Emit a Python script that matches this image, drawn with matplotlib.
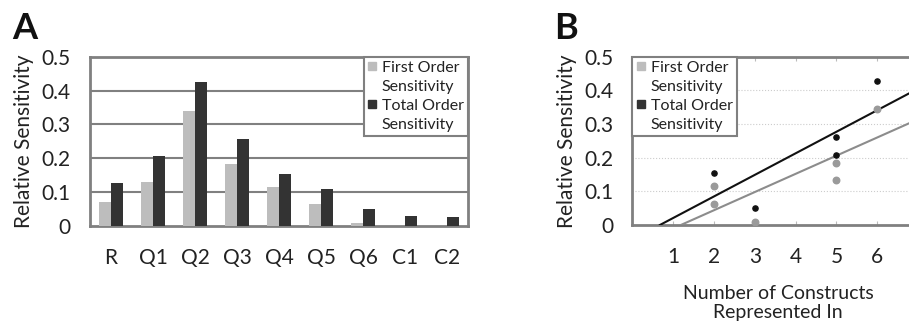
import numpy as np
import matplotlib.pyplot as plt
from matplotlib.lines import Line2D

plt.rcParams['font.family'] = ['Lato', 'DejaVu Sans']

# Панель A: чувствительность по параметрам
categories = ["R", "Q1", "Q2", "Q3", "Q4", "Q5", "Q6", "C1", "C2"]
first_order = [0.071, 0.130, 0.339, 0.182, 0.115, 0.064, 0.009, 0.0, 0.0]
total_order = [0.128, 0.206, 0.424, 0.258, 0.153, 0.110, 0.049, 0.031, 0.026]

# Панель B: точки и линии тренда
b_first_x = [2, 2, 3, 5, 5, 6]
b_first_y = [0.116, 0.062, 0.010, 0.184, 0.133, 0.344]
b_total_x = [2, 3, 5, 5, 6]
b_total_y = [0.154, 0.050, 0.261, 0.209, 0.429]
fit_first = (0.054, -0.064)   # наклон, сдвиг
fit_total = (0.064, -0.043)

light = '#bdbdbd'
dark = '#333333'
frame = '#808080'

fig = plt.figure(figsize=(9.09, 3.25), dpi=100)


def add_legend(a, loc, anchor):
    # маркер только у первой строки подписи
    blank = Line2D([], [], ls='none')
    handles = [Line2D([], [], marker='s', ls='none', color=light, markersize=6), blank,
               Line2D([], [], marker='s', ls='none', color=dark, markersize=6), blank]
    labels = ["First Order", "Sensitivity", "Total Order", "Sensitivity"]
    leg = a.legend(handles, labels, loc=loc, bbox_to_anchor=anchor,
                   borderaxespad=0, fontsize=11.5, frameon=True, fancybox=False,
                   handlelength=0.6, handletextpad=0.3, labelspacing=0.3,
                   borderpad=0.25, framealpha=1)
    leg.get_frame().set_edgecolor(frame)
    leg.get_frame().set_linewidth(1.5)
    for t in leg.get_texts():
        t.set_color('#222222')


# ---- A ----
ax = fig.add_axes([0.099, 0.3046, 0.4158, 0.521])
x = np.arange(len(categories))
w = 0.28
ax.bar(x - w / 2, first_order, w, color=light, zorder=3)
ax.bar(x + w / 2, total_order, w, color=dark, zorder=3)
ax.set_xlim(-0.5, len(categories) - 0.5)
ax.set_ylim(0, 0.5)
ax.set_yticks([0, 0.1, 0.2, 0.3, 0.4, 0.5])
ax.set_yticklabels(["0", "0.1", "0.2", "0.3", "0.4", "0.5"])
ax.set_xticks(x)
ax.set_xticklabels(categories)
ax.tick_params(length=0, labelsize=15, colors='#222222')
ax.tick_params(axis='x', pad=16)
ax.tick_params(axis='y', pad=14)
for yv in [0.1, 0.2, 0.3, 0.4]:
    ax.axhline(yv, color=frame, lw=1.5, zorder=1)
for s in ax.spines.values():
    s.set_color(frame)
    s.set_linewidth(2)
ax.set_ylabel("Relative Sensitivity", fontsize=15, color='#222222', labelpad=5)
add_legend(ax, 'upper right', (1, 1))
fig.text(0.013, 0.88, "A", fontsize=26, fontweight='bold', color='#111111')

# ---- B ----
bx = fig.add_axes([0.6958, 0.3077, 0.3142, 0.518])
bx.set_xlim(0, 7)
bx.set_ylim(0, 0.5)
for slope, icpt, col in [(fit_first[0], fit_first[1], '#8c8c8c'), (fit_total[0], fit_total[1], '#111111')]:
    xs = np.array([-icpt / slope, 7])
    bx.plot(xs, slope * xs + icpt, color=col, lw=1.5, zorder=3)
bx.scatter(b_total_x, b_total_y, s=14, color='#111111', zorder=4)
bx.scatter(b_first_x, b_first_y, s=22, color='#9a9a9a', zorder=5)
bx.set_xticks([1, 2, 3, 4, 5, 6])
bx.set_yticks([0, 0.1, 0.2, 0.3, 0.4, 0.5])
bx.set_yticklabels(["0", "0.1", "0.2", "0.3", "0.4", "0.5"])
bx.tick_params(axis='x', direction='in', length=3, color='#bbbbbb', top=True, pad=16)
bx.tick_params(axis='y', length=0, pad=14)
bx.tick_params(labelsize=15, labelcolor='#222222')
for yv in [0.1, 0.2, 0.3, 0.4]:
    bx.axhline(yv, color='#cccccc', lw=0.8, ls=':', zorder=1)
for s in bx.spines.values():
    s.set_color(frame)
    s.set_linewidth(2)
bx.set_ylabel("Relative Sensitivity", fontsize=15, color='#222222', labelpad=5)
bx.set_xlabel("Number of Constructs\nRepresented In", fontsize=14, color='#222222',
              labelpad=13, x=(778 - 632.5) / 285.6, linespacing=1.1)
add_legend(bx, 'upper left', (0, 1))
fig.text(0.61, 0.88, "B", fontsize=26, fontweight='bold', color='#111111')

fig.savefig("out.png", dpi=100)
